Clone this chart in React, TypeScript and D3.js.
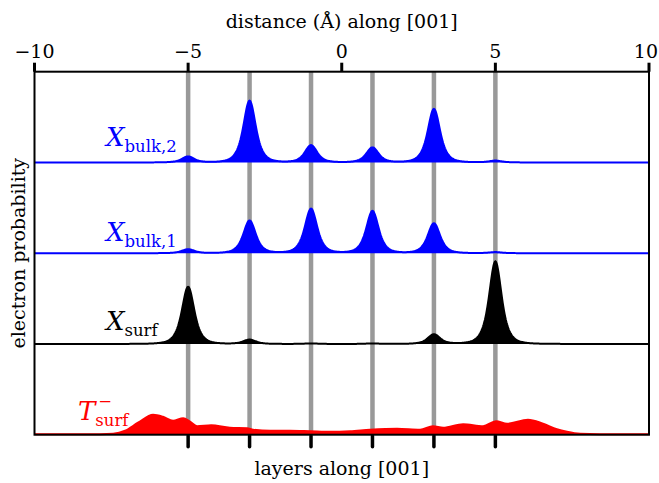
import { useEffect, useRef } from "react";
import * as d3 from "d3";

// layer positions along [001], in Å
const layers = [-5, -3, -1, 1, 3, 5];
const distanceTicks = [-10, -5, 0, 5, 10];

// peak height on each layer (one panel = 1.0)
const bulk2Peaks = [0.066, 0.68, 0.19, 0.165, 0.59, 0.02];
const bulk1Peaks = [0.044, 0.36, 0.49, 0.465, 0.33, 0.012];
const surfPeaks = [0.63, 0.048, 0.006, 0.006, 0.107, 0.91];

// T_surf^- is spread out, so read point by point
const tSurfX = [
  -10, -7.87, -7.44, -7.05, -6.63, -6.14, -5.82, -5.49, -5.16, -4.94, -4.71,
  -4.25, -3.64, -3.08, -2.89, -2.33, -1.69, -1.03, -0.38, 0.27, 0.92, 1.8,
  2.55, 2.97, 3.3, 3.95, 4.6, 5.02, 5.38, 6.06, 6.55, 7.0, 7.33, 7.76, 8.4, 10,
];
const tSurfY = [
  0.005, 0.006, 0.011, 0.044, 0.132, 0.22, 0.198, 0.154, 0.182, 0.143, 0.094,
  0.105, 0.077, 0.072, 0.055, 0.044, 0.044, 0.039, 0.033, 0.039, 0.055, 0.066,
  0.055, 0.094, 0.077, 0.116, 0.094, 0.149, 0.121, 0.165, 0.121, 0.061, 0.033,
  0.011, 0.006, 0.005,
];

const WIDTH = 659;
const HEIGHT = 483;
const FONT = "DejaVu Serif, serif";

function App() {
  const ref = useRef<SVGSVGElement>(null);

  useEffect(() => {
    const svg = d3.select(ref.current);
    svg.selectAll("*").remove();

    const x = d3.scaleLinear().domain([-10, 10]).range([34.5, 649]);
    const y = d3.scaleLinear().domain([0, 4]).range([434.7, 71.7]);

    // layer lines behind everything
    svg
      .append("g")
      .selectAll("line")
      .data(layers)
      .join("line")
      .attr("x1", (d) => x(d))
      .attr("x2", (d) => x(d))
      .attr("y1", y(4))
      .attr("y2", y(0))
      .attr("stroke", "#999")
      .attr("stroke-width", 4.5);

    // peaked densities: one smeared peak per layer
    const gamma = 0.37;
    const grid = d3.range(-10, 10.0001, 0.02);
    const peaked = (peaks: number[]) =>
      grid.map((g) => {
        let v = 0;
        layers.forEach((l, i) => {
          const u = (g - l) / gamma;
          v += peaks[i] / Math.pow(1 + u * u, 2);
        });
        return [g, v] as [number, number];
      });

    const series = [
      { pts: peaked(bulk2Peaks), offset: 3, color: "#0000ff", curve: d3.curveLinear },
      { pts: peaked(bulk1Peaks), offset: 2, color: "#0000ff", curve: d3.curveLinear },
      { pts: peaked(surfPeaks), offset: 1, color: "#000000", curve: d3.curveLinear },
      {
        pts: tSurfX.map((v, i) => [v, tSurfY[i]] as [number, number]),
        offset: 0,
        color: "#ff0000",
        curve: d3.curveMonotoneX,
      },
    ];

    series.forEach((s) => {
      const area = d3
        .area<[number, number]>()
        .x((d) => x(d[0]))
        .y0(y(s.offset))
        .y1((d) => y(s.offset + d[1]))
        .curve(s.curve);
      const line = d3
        .line<[number, number]>()
        .x((d) => x(d[0]))
        .y((d) => y(s.offset + d[1]))
        .curve(s.curve);
      svg.append("path").attr("d", area(s.pts)).attr("fill", s.color);
      svg
        .append("path")
        .attr("d", line(s.pts))
        .attr("fill", "none")
        .attr("stroke", s.color)
        .attr("stroke-width", 2);
    });

    // frame
    svg
      .append("rect")
      .attr("x", x(-10))
      .attr("y", y(4))
      .attr("width", x(10) - x(-10))
      .attr("height", y(0) - y(4))
      .attr("fill", "none")
      .attr("stroke", "#000")
      .attr("stroke-width", 2);

    // top distance axis
    const top = svg.append("g");
    top
      .selectAll("line")
      .data(distanceTicks)
      .join("line")
      .attr("x1", (d) => x(d))
      .attr("x2", (d) => x(d))
      .attr("y1", y(4))
      .attr("y2", y(4) - 9)
      .attr("stroke", "#000")
      .attr("stroke-width", 3);
    top
      .selectAll("text")
      .data(distanceTicks)
      .join("text")
      // last label would run past the page edge, pin it to the right
      .attr("x", (d) => (d === 10 ? WIDTH - 1 : x(d)))
      .attr("y", 58)
      .attr("text-anchor", (d) => (d === 10 ? "end" : "middle"))
      .attr("font-family", FONT)
      .attr("font-size", 19)
      .text((d) => (d < 0 ? "\u2212" + Math.abs(d) : String(d)));
    svg
      .append("text")
      .attr("x", (x(-10) + x(10)) / 2)
      .attr("y", 27.5)
      .attr("text-anchor", "middle")
      .attr("font-family", FONT)
      .attr("font-size", 19)
      .text("distance (\u00C5) along [001]");

    // bottom layer ticks
    svg
      .append("g")
      .selectAll("line")
      .data(layers)
      .join("line")
      .attr("x1", (d) => x(d))
      .attr("x2", (d) => x(d))
      .attr("y1", y(0) + 1)
      .attr("y2", y(0) + 12)
      .attr("stroke", "#000")
      .attr("stroke-width", 3.5)
      .attr("stroke-linecap", "round");
    svg
      .append("text")
      .attr("x", (x(-10) + x(10)) / 2)
      .attr("y", 475)
      .attr("text-anchor", "middle")
      .attr("font-family", FONT)
      .attr("font-size", 19)
      .text("layers along [001]");

    svg
      .append("text")
      .attr("transform", `translate(25, ${(y(0) + y(4)) / 2}) rotate(-90)`)
      .attr("text-anchor", "middle")
      .attr("font-family", FONT)
      .attr("font-size", 19)
      .text("electron probability");

    // series labels
    const label = (
      main: string,
      sub: string,
      sup: string,
      color: string,
      lx: number,
      by: number
    ) => {
      const g = svg.append("g").attr("fill", color).attr("font-family", FONT);
      const m = g
        .append("text")
        .attr("x", lx)
        .attr("y", by)
        .attr("font-size", 26)
        .attr("font-style", "italic")
        .text(main);
      const w = (m.node() as SVGTextElement).getComputedTextLength();
      g.append("text")
        .attr("x", lx + w)
        .attr("y", by + 6)
        .attr("font-size", 16.5)
        .text(sub);
      if (sup) {
        g.append("text")
          .attr("x", lx + w + 3)
          .attr("y", by - 13.5)
          .attr("font-size", 16.5)
          .text(sup);
      }
    };
    label("X", "bulk,2", "", "#0000ff", 106, 145.5);
    label("X", "bulk,1", "", "#0000ff", 106, 240.7);
    label("X", "surf", "", "#000000", 106, 329.5);
    label("T", "surf", "\u2212", "#ff0000", 78, 420);
  }, []);

  return (
    <svg
      ref={ref}
      width={WIDTH}
      height={HEIGHT}
      style={{ position: "absolute", left: 0, top: 0, background: "#fff" }}
    ></svg>
  );
}

export default App;
